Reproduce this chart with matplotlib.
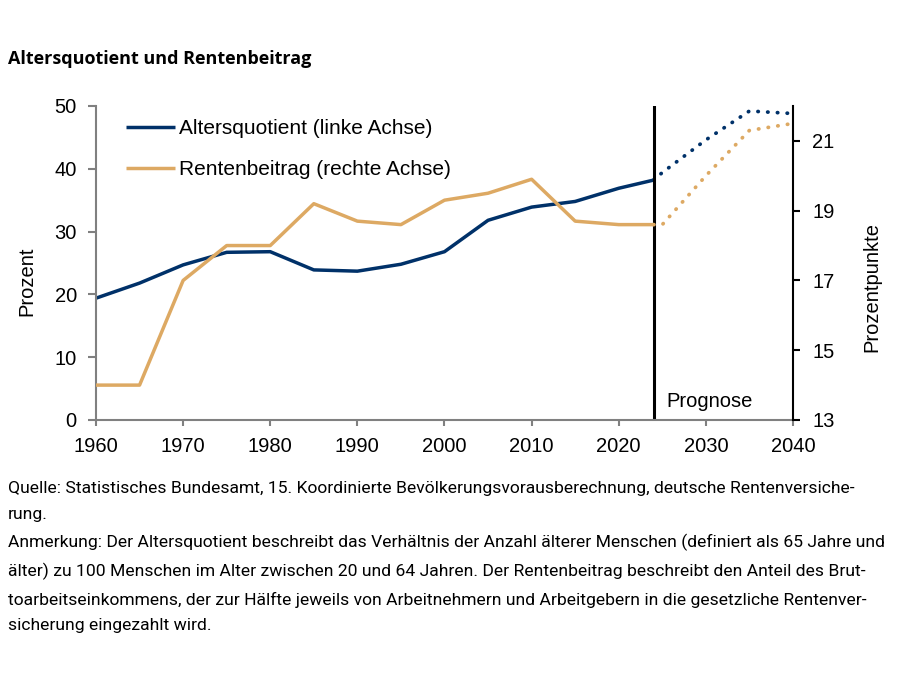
import matplotlib
matplotlib.use("Agg")
import matplotlib.pyplot as plt

plt.rcParams['font.family'] = ['Liberation Sans', 'DejaVu Sans']

# Daten
jahre = [1960, 1965, 1970, 1975, 1980, 1985, 1990, 1995, 2000, 2005, 2010, 2015, 2020, 2024]
altersquotient = [19.4, 21.8, 24.7, 26.7, 26.8, 23.9, 23.7, 24.8, 26.8, 31.8, 33.9, 34.8, 36.9, 38.2]
rentenbeitrag = [14.0, 14.0, 17.0, 18.0, 18.0, 19.2, 18.7, 18.6, 19.3, 19.5, 19.9, 18.7, 18.6, 18.6]

jahre_prog_aq = [2024, 2025, 2030, 2035, 2040]
altersquotient_prog = [38.2, 39.4, 44.6, 49.2, 48.8]
jahre_prog_rb = [2024, 2025, 2030, 2035, 2040]
rentenbeitrag_prog = [18.6, 18.6, 20.0, 21.3, 21.5]

prognose_start = 2024
x_ticks = [1960, 1970, 1980, 1990, 2000, 2010, 2020, 2030, 2040]
y_links_ticks = [0, 10, 20, 30, 40, 50]
y_rechts_ticks = [13, 15, 17, 19, 21]

blau = '#003169'
orange = '#DDA963'
grau = '#808080'

note_font = ['Roboto', 'DejaVu Sans']
title_font = ['Open Sans', 'DejaVu Sans']
fs = 14.5

fig = plt.figure(figsize=(9.1, 6.76), dpi=100)
ax = fig.add_axes([0.1055, 0.3787, 0.7659, 0.4645])
ax2 = ax.twinx()

punkte = (0, (0.1, 2.5))
l1, = ax.plot(jahre, altersquotient, color=blau, lw=2.5, label='Altersquotient (linke Achse)', solid_capstyle='butt')
ax.plot(jahre_prog_aq, altersquotient_prog, color=blau, lw=2.7, linestyle=punkte, dash_capstyle='round')
l2, = ax2.plot(jahre, rentenbeitrag, color=orange, lw=2.5, label='Rentenbeitrag (rechte Achse)', solid_capstyle='butt')
ax2.plot(jahre_prog_rb, rentenbeitrag_prog, color=orange, lw=2.7, linestyle=punkte, dash_capstyle='round')

ax.axvline(prognose_start, color='black', lw=2.2)
ax.text(prognose_start + 1.5, 3.0, 'Prognose', fontsize=fs, va='center', ha='left')

ax.set_xlim(1960, 2040)
ax.set_ylim(0, 50)
ax2.set_ylim(13, 22)
ax.set_xticks(x_ticks)
ax.set_yticks(y_links_ticks)
ax2.set_yticks(y_rechts_ticks)

for a in (ax, ax2):
    a.spines['top'].set_visible(False)
ax.spines['right'].set_visible(False)
ax2.spines['left'].set_visible(False)
ax2.spines['bottom'].set_visible(False)
ax.spines['left'].set_color(grau)
ax.spines['bottom'].set_color(grau)
ax.spines['left'].set_linewidth(1.5)
ax.spines['bottom'].set_linewidth(1.5)
ax2.spines['right'].set_color('black')
ax2.spines['right'].set_linewidth(1.5)

ax.tick_params(axis='y', colors=grau, labelcolor='black', labelsize=fs, length=5.8, width=1.5, pad=8)
ax.tick_params(axis='x', colors=grau, labelcolor='black', labelsize=fs, length=4.5, width=1.5, pad=7.5)
ax2.tick_params(axis='y', colors='black', labelsize=fs, length=5, width=1.5, pad=9)

ax.set_ylabel('Prozent', fontsize=fs, labelpad=13)
ax2.set_ylabel('Prozentpunkte', fontsize=fs, labelpad=20)
# Achsentitel etwas unterhalb der Mitte wie im Original
ax.yaxis.label.set_y(0.443)
ax2.yaxis.label.set_y(0.424)

ax2.legend(handles=[l1, l2], loc='upper left', bbox_to_anchor=(0.016, 1.017), frameon=False,
           fontsize=15, handlelength=2.35, handletextpad=0.2, labelspacing=1.05)

fig.text(0.009, 0.912, 'Altersquotient und Rentenbeitrag', fontsize=13, fontweight='bold',
         family=title_font, va='center')

notiz = ('Quelle: Statistisches Bundesamt, 15. Koordinierte Bevölkerungsvorausberechnung, deutsche Rentenversiche-\n'
         'rung.\n'
         'Anmerkung: Der Altersquotient beschreibt das Verhältnis der Anzahl älterer Menschen (definiert als 65 Jahre und\n'
         'älter) zu 100 Menschen im Alter zwischen 20 und 64 Jahren. Der Rentenbeitrag beschreibt den Anteil des Brut-\n'
         'toarbeitseinkommens, der zur Hälfte jeweils von Arbeitnehmern und Arbeitgebern in die gesetzliche Rentenver-\n'
         'sicherung eingezahlt wird.')
fig.text(0.009, 0.288, notiz, fontsize=12.6, family=note_font, va='top', linespacing=1.88)

fig.savefig('out.png', dpi=100)
